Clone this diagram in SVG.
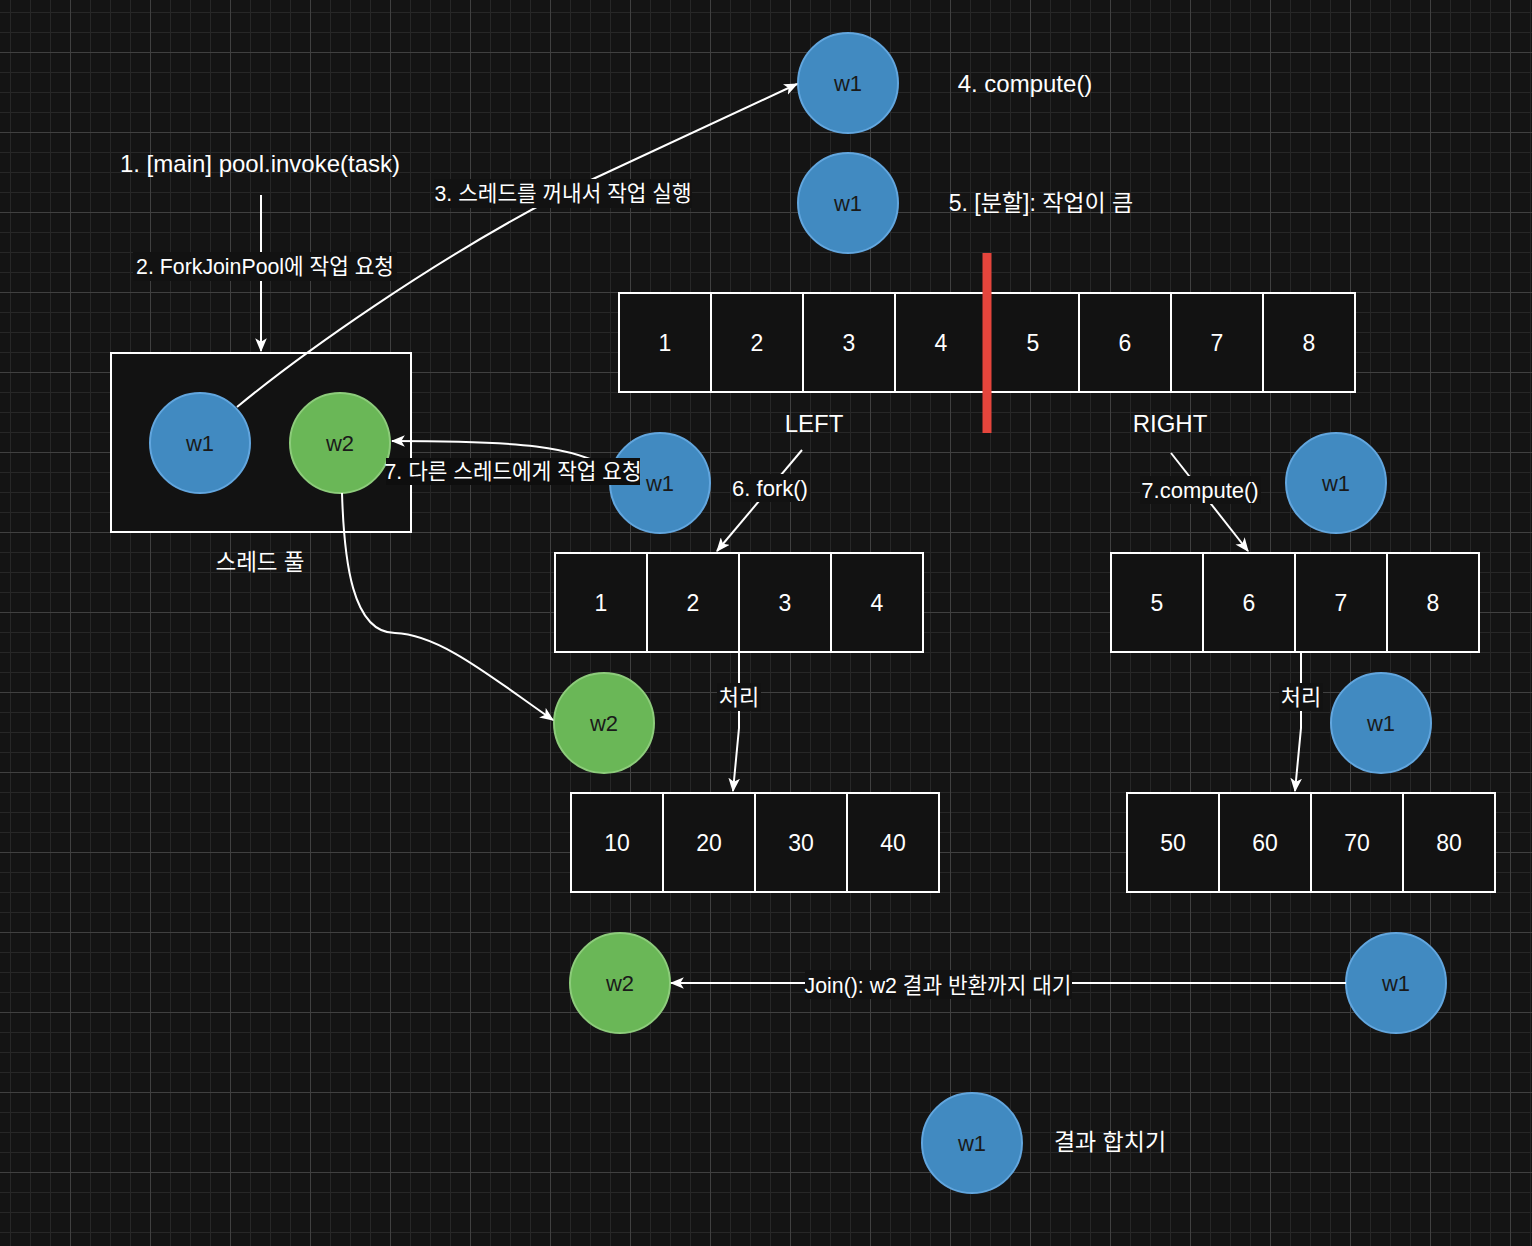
<svg xmlns="http://www.w3.org/2000/svg" width="1532" height="1246" viewBox="0 0 1532 1246">
<defs>
<pattern id="gMinor" x="10" y="12" width="20" height="20" patternUnits="userSpaceOnUse"><path d="M0 0.5H20M0.5 0V20" stroke="#272727" stroke-width="1" fill="none"/></pattern>
<pattern id="gMajor" x="70" y="52" width="80" height="80" patternUnits="userSpaceOnUse"><path d="M0 0.5H80M0.5 0V80" stroke="#404040" stroke-width="1" fill="none"/></pattern>
<marker id="arr" viewBox="0 0 12 10" refX="11" refY="5" markerWidth="14" markerHeight="12" markerUnits="userSpaceOnUse" orient="auto"><path d="M0,0 L12,5 L0,10 L3,5 Z" fill="#ffffff"/></marker>
<style>
text{font-family:"Liberation Sans","Noto Sans CJK KR",sans-serif;font-size:22px;fill:#ffffff;text-anchor:middle}
.big{font-size:24px}
.mid{font-size:23px}
.el{font-size:21.3px}
.cell{fill:#121212;stroke:#ffffff;stroke-width:2}
.cell + text{font-size:23px}
.blue{fill:#418ac1;stroke:#62a6de;stroke-width:2}
.green{fill:#6ab757;stroke:#8dcc7b;stroke-width:2}
.ct{fill:#1a1a1a}
.edge{fill:none;stroke:#ffffff;stroke-width:2}
.lbg{fill:#121212}
</style>
</defs>
<rect width="1532" height="1246" fill="#141414"/>
<rect width="1532" height="1246" fill="url(#gMinor)"/>
<rect width="1532" height="1246" fill="url(#gMajor)"/>

<g id="title1"><text class="big" x="260" y="172">1. [main] pool.invoke(task)</text></g>

<g id="pool">
<rect x="111" y="353" width="300" height="179" fill="#121212" stroke="#ffffff" stroke-width="2"/>
<text x="260" y="570" style="font-size:22.5px">스레드 풀</text>
</g>
<g id="pool-w1"><circle cx="200" cy="443" r="50" class="blue"/><text x="200" y="451" class="ct">w1</text></g>
<g id="pool-w2"><circle cx="340" cy="443" r="50" class="green"/><text x="340" y="451" class="ct">w2</text></g>

<g id="w1-a"><circle cx="848" cy="83" r="50" class="blue"/><text x="848" y="91" class="ct">w1</text></g>
<g id="t4"><text class="big" x="1025" y="92">4. compute()</text></g>
<g id="w1-b"><circle cx="848" cy="203" r="50" class="blue"/><text x="848" y="211" class="ct">w1</text></g>
<g id="t5"><text class="mid" x="1041" y="211">5. [분할]: 작업이 큼</text></g>

<g id="array8">
<rect x="619" y="293" width="92" height="99" class="cell"/><text x="665" y="351">1</text>
<rect x="711" y="293" width="92" height="99" class="cell"/><text x="757" y="351">2</text>
<rect x="803" y="293" width="92" height="99" class="cell"/><text x="849" y="351">3</text>
<rect x="895" y="293" width="92" height="99" class="cell"/><text x="941" y="351">4</text>
<rect x="987" y="293" width="92" height="99" class="cell"/><text x="1033" y="351">5</text>
<rect x="1079" y="293" width="92" height="99" class="cell"/><text x="1125" y="351">6</text>
<rect x="1171" y="293" width="92" height="99" class="cell"/><text x="1217" y="351">7</text>
<rect x="1263" y="293" width="92" height="99" class="cell"/><text x="1309" y="351">8</text>
</g>
<g id="split"><rect x="982.5" y="253" width="9" height="180" fill="#e5453c"/></g>
<g id="left-label"><text class="big" x="814" y="432">LEFT</text></g>
<g id="right-label"><text class="big" x="1170" y="432">RIGHT</text></g>

<g id="w1-c"><circle cx="660" cy="483" r="50" class="blue"/><text x="660" y="491" class="ct">w1</text></g>
<g id="w1-d"><circle cx="1336" cy="483" r="50" class="blue"/><text x="1336" y="491" class="ct">w1</text></g>

<g id="arrL">
<rect x="555" y="553" width="92" height="99" class="cell"/><text x="601" y="611">1</text>
<rect x="647" y="553" width="92" height="99" class="cell"/><text x="693" y="611">2</text>
<rect x="739" y="553" width="92" height="99" class="cell"/><text x="785" y="611">3</text>
<rect x="831" y="553" width="92" height="99" class="cell"/><text x="877" y="611">4</text>
</g>
<g id="arrR">
<rect x="1111" y="553" width="92" height="99" class="cell"/><text x="1157" y="611">5</text>
<rect x="1203" y="553" width="92" height="99" class="cell"/><text x="1249" y="611">6</text>
<rect x="1295" y="553" width="92" height="99" class="cell"/><text x="1341" y="611">7</text>
<rect x="1387" y="553" width="92" height="99" class="cell"/><text x="1433" y="611">8</text>
</g>

<g id="w2-a"><circle cx="604" cy="723" r="50" class="green"/><text x="604" y="731" class="ct">w2</text></g>
<g id="w1-e"><circle cx="1381" cy="723" r="50" class="blue"/><text x="1381" y="731" class="ct">w1</text></g>

<g id="resL">
<rect x="571" y="793" width="92" height="99" class="cell"/><text x="617" y="851">10</text>
<rect x="663" y="793" width="92" height="99" class="cell"/><text x="709" y="851">20</text>
<rect x="755" y="793" width="92" height="99" class="cell"/><text x="801" y="851">30</text>
<rect x="847" y="793" width="92" height="99" class="cell"/><text x="893" y="851">40</text>
</g>
<g id="resR">
<rect x="1127" y="793" width="92" height="99" class="cell"/><text x="1173" y="851">50</text>
<rect x="1219" y="793" width="92" height="99" class="cell"/><text x="1265" y="851">60</text>
<rect x="1311" y="793" width="92" height="99" class="cell"/><text x="1357" y="851">70</text>
<rect x="1403" y="793" width="92" height="99" class="cell"/><text x="1449" y="851">80</text>
</g>

<g id="w2-b"><circle cx="620" cy="983" r="50" class="green"/><text x="620" y="991" class="ct">w2</text></g>
<g id="w1-f"><circle cx="1396" cy="983" r="50" class="blue"/><text x="1396" y="991" class="ct">w1</text></g>

<g id="w1-g"><circle cx="972" cy="1143" r="50" class="blue"/><text x="972" y="1151" class="ct">w1</text></g>
<g id="merge"><text class="mid" x="1110" y="1150">결과 합치기</text></g>

<g id="connectors">
<path class="edge" d="M261,195 L261,351" marker-end="url(#arr)"/>
<rect class="lbg" x="133" y="252" width="264" height="29"/>
<text class="el" x="265" y="274">2. ForkJoinPool에 작업 요청</text>

<path class="edge" d="M237,407 C300,355 430,262 563,193 L797,84" marker-end="url(#arr)"/>
<rect class="lbg" x="434" y="179" width="258" height="29"/>
<text class="el" x="563" y="201">3. 스레드를 꺼내서 작업 실행</text>

<path class="edge" d="M612,470 C575,446 520,441 392,441" marker-end="url(#arr)"/>
<rect fill="#0e0e0e" x="386" y="458" width="254" height="27"/>
<text class="el" x="513" y="479">7. 다른 스레드에게 작업 요청</text>

<path class="edge" d="M342,493 C344,560 352,633 395,633 C440,634 495,680 553,720" marker-end="url(#arr)"/>

<path class="edge" d="M802,450 L717,551" marker-end="url(#arr)"/>
<rect class="lbg" x="731" y="474" width="79" height="28"/>
<text x="770" y="496">6. fork()</text>

<path class="edge" d="M1171,453 L1248,551" marker-end="url(#arr)"/>
<rect class="lbg" x="1140" y="476" width="121" height="28"/>
<text x="1200" y="498">7.compute()</text>

<path class="edge" d="M739,653 L739,728 L733,791" marker-end="url(#arr)"/>
<rect class="lbg" x="717" y="683" width="44" height="28"/>
<text x="739" y="705">처리</text>

<path class="edge" d="M1301,653 L1301,728 L1295,791" marker-end="url(#arr)"/>
<rect class="lbg" x="1279" y="683" width="44" height="28"/>
<text x="1301" y="705">처리</text>

<path class="edge" d="M1346,983 L671,983" marker-end="url(#arr)"/>
<rect class="lbg" x="805" y="970" width="267" height="29"/>
<text class="el" x="938" y="993">Join(): w2 결과 반환까지 대기</text>
</g>
</svg>
